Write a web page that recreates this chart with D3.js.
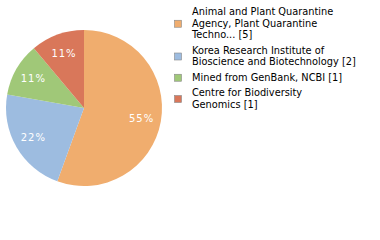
<!DOCTYPE html>
<html><head><meta charset="utf-8">
<script src="https://cdn.jsdelivr.net/npm/d3@7"></script>
<style>body{margin:0;background:#fff}svg{display:block}text{font-family:"DejaVu Sans",sans-serif}</style>
</head><body>
<script>
const categories = [
  ["Animal and Plant Quarantine", "Agency, Plant Quarantine", "Techno... [5]"],
  ["Korea Research Institute of", "Bioscience and Biotechnology [2]"],
  ["Mined from GenBank, NCBI [1]"],
  ["Centre for Biodiversity", "Genomics [1]"]
];
const values = [5, 2, 1, 1];
const colors = ["#f0ad6e", "#9dbce0", "#a0c878", "#d9775a"];

const svg = d3.select("body").append("svg").attr("width", 380).attr("height", 240);
const cx = 84, cy = 108, r = 78;
const pie = d3.pie().sort(null).value(d => d)(values);
const arc = d3.arc().innerRadius(0).outerRadius(r);
const labelArc = d3.arc().innerRadius(r * 0.75).outerRadius(r * 0.75);
const g = svg.append("g").attr("transform", `translate(${cx},${cy})`);
const total = d3.sum(values);
g.selectAll("path").data(pie).join("path").attr("d", arc).attr("fill", (d, i) => colors[i]);
g.selectAll("text").data(pie).join("text")
  .attr("transform", d => `translate(${labelArc.centroid(d)})`)
  .attr("text-anchor", "middle").attr("dy", "0.35em")
  .attr("fill", "#fff").attr("font-size", 10).attr("letter-spacing", 1)
  .text(d => Math.floor(d.value / total * 100) + "%");

const lg = svg.append("g");
let y = 15;
const lh = 11.5;
categories.forEach((lines, i) => {
  const h = lines.length * lh;
  const sqY = y - 9 + h / 2 - 3.5 + 0.5;
  lg.append("rect").attr("x", 174.5).attr("y", sqY).attr("width", 7).attr("height", 7)
    .attr("fill", colors[i]).attr("stroke", "#888").attr("stroke-width", 0.6);
  const t = lg.append("text").attr("x", 192).attr("y", y).attr("font-size", 9.8).attr("fill", "#000");
  lines.forEach((l, j) => t.append("tspan").attr("x", 192).attr("y", y + j * lh).text(l));
  y += h + 4;
});
</script>
</body></html>
